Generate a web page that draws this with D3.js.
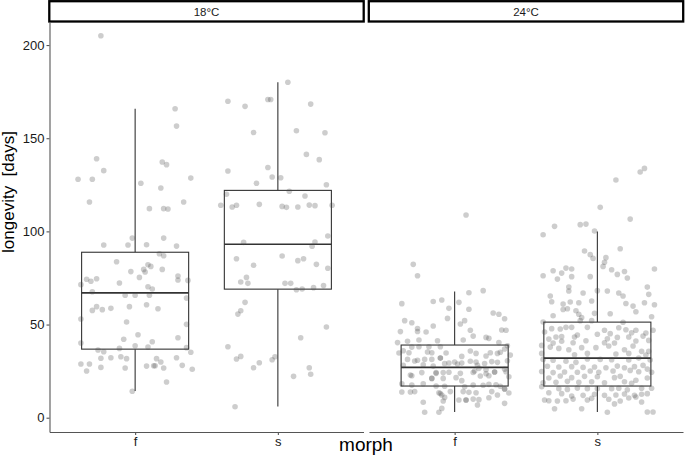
<!DOCTYPE html>
<html><head><meta charset="utf-8">
<script src="https://cdn.jsdelivr.net/npm/d3@7"></script>
<style>html,body{margin:0;padding:0;background:#fff}svg{display:block}</style>
</head><body><div id="chart"></div>
<script>
// ---------- data ----------
const facets = ["18°C", "24°C"];
const morphs = ["f", "s"];
const yTicks = [0, 50, 100, 150, 200];

// box statistics, order: 18°C f, 18°C s, 24°C f, 24°C s
const boxFacet = [0, 0, 1, 1];
const boxMorph = [0, 1, 0, 1];
const whiskLow = [14.3, 6, 3, 3];
const q1 = [36.8, 69, 17, 17];
const med = [67, 93.1, 27, 32];
const q3 = [88.8, 122, 39, 51.3];
const whiskHigh = [165.8, 180, 67.7, 100];

// longevity observations (days) and their horizontal jitter (in category units)
const long18f = [205,165.8,156.5,139,137.2,135.8,132.6,128,128,128.6,125.8,123.3,115.8,115.8,112.2,112.2,112,96.4,96.4,92.7,92.7,92.8,92.1,88,86.9,83.7,82.1,81.2,79.6,79.6,78.4,78.2,76,75.3,73.9,73.7,74.3,73.2,74.6,71.4,72.3,70.3,69.1,67.6,65.7,65.7,65.7,64.2,59.6,57.6,58,58.7,59.6,60.6,58.5,53,51.4,50.1,44.5,42.1,42.9,40.8,40.1,38.6,37.9,37.6,37.2,36.3,35.4,35.1,31.9,32.2,32.7,31.7,31.7,29.9,32.2,28.8,28.8,25.1,27,26.7,27.7,27.9,27.9,26.7,28.1,26,19.2,14.2];
const jit18f = [-0.24,0.28,0.29,-0.27,0.19,0.22,-0.22,-0.40,-0.30,0.39,0.04,0.18,-0.32,0.34,0.10,0.20,0.23,-0.02,0.20,-0.22,-0.05,0.08,0.29,0.17,0.20,-0.13,0.09,0.11,0.06,0.19,-0.03,0.07,0.30,0.03,0.30,0.37,-0.34,-0.31,-0.27,-0.38,-0.11,0.09,0.12,-0.30,-0.07,0.00,0.10,0.36,-0.27,-0.30,-0.23,-0.17,-0.04,0.08,0.16,-0.38,-0.06,0.36,0.02,-0.08,0.30,0.12,-0.38,0.00,0.09,0.36,-0.11,-0.26,-0.22,0.39,-0.24,-0.17,-0.10,-0.06,0.15,0.18,0.29,-0.38,-0.32,-0.34,-0.24,-0.07,0.08,0.13,0.14,0.20,0.33,0.40,0.22,-0.02];

const long18s = [180,169.8,167.1,170.8,170.8,168.3,153.1,154,152.9,141.3,138.5,132.4,134.3,129.2,128.8,125.8,125,119.9,121.5,119,114,113.1,114,114.5,113.4,112.9,113.1,114.1,113.8,114,97.5,94.3,92,94.1,85.3,86.8,84.3,85.3,81.8,82.3,80.2,75.3,72.8,72.1,72.1,72.1,68.7,69.1,69.8,70.9,61.9,57.4,55.6,48.7,42.9,38.1,31.5,32.9,26.8,29.5,31.1,32.7,22.2,26.8,23.3,5.9];
const jit18s = [0.07,-0.35,-0.23,-0.07,-0.05,0.23,-0.17,0.13,0.33,0.20,0.29,-0.35,-0.07,-0.04,0.02,-0.15,0.34,-0.36,0.08,0.19,-0.40,-0.32,-0.29,-0.13,0.03,0.06,0.14,0.22,0.26,0.38,0.35,0.26,0.24,-0.24,-0.29,0.03,0.14,0.18,-0.17,0.27,0.35,-0.22,-0.26,-0.21,0.05,0.09,0.13,0.17,0.25,0.32,-0.23,-0.26,-0.28,0.34,0.16,-0.35,-0.29,-0.26,-0.17,-0.13,-0.04,-0.02,0.11,0.22,0.23,-0.30];

const long24f = [108.8,82.3,76.2,67.1,68.2,61.2,62.4,63.2,61.9,58.7,58.2,56.2,55.5,53.1,53.3,52.1,52.1,51,50.3,49.2,47.9,46.3,46,46.9,47.1,46.9,46.2,43.8,43.1,42.6,41,41.7,40.3,41.7,40.3,41.3,37.9,38.1,38.1,38.1,38.6,35.9,34.7,35.3,34.9,34.7,35.8,34.9,34.5,35.1,36.9,33.6,32.9,33.1,32,31.3,30.8,31.3,31.3,29.9,30.3,29.9,30.1,29,29.4,28.8,28.4,28.1,28.1,27.7,26.5,25.8,26,24.2,24.2,24.2,23.8,24.3,23.6,24.5,24.7,22.5,21.1,21.1,21.5,19.9,22.5,22,18.2,18.2,17.5,17,16.9,16.6,17.5,17.4,17.9,17.7,16.9,15.4,13.8,13.8,14,13.4,14,14,13.6,13.4,14,13.3,12.2,10.9,9.5,10,9.7,10.7,12.2,8.3,9,6.8,7.7,5,2.9,2.9,34.9,34.5,30.4,29.3,29.1,29.7,30.6,24.5,21.1,15.4,9.5,32,22.9,23.8,24.4,25.1,22.4,13,9.5];
const jit24f = [0.08,-0.29,-0.26,0.10,0.20,-0.37,-0.15,-0.09,0.03,-0.04,0.10,0.27,0.31,0.35,-0.05,0.07,-0.35,-0.30,0.04,-0.15,-0.26,-0.26,-0.20,0.11,0.33,0.36,-0.38,0.13,0.22,0.24,-0.33,-0.25,-0.40,0.06,0.31,-0.12,-0.30,-0.25,-0.18,-0.10,0.37,-0.36,-0.39,-0.19,-0.16,-0.06,0.11,0.25,0.30,0.32,0.35,0.39,0.05,0.22,-0.10,-0.33,-0.26,-0.21,-0.16,0.00,0.11,0.15,0.26,-0.07,-0.04,0.02,-0.22,0.16,-0.36,-0.15,0.17,0.22,0.35,-0.23,-0.13,-0.08,0.04,0.13,0.22,0.28,0.36,-0.30,-0.16,-0.08,0.01,0.05,0.24,0.38,-0.22,-0.37,-0.30,-0.13,-0.07,0.07,0.13,0.20,0.24,0.29,0.32,0.35,-0.37,-0.31,-0.28,-0.11,-0.03,0.06,0.10,0.15,0.26,0.38,-0.09,-0.07,0.08,0.13,0.17,0.24,0.30,-0.22,-0.08,0.16,0.35,-0.09,-0.21,-0.11,-0.32,0.15,-0.28,0.05,0.21,0.30,0.37,0.28,-0.16,0.35,0.08,-0.10,-0.31,-0.13,-0.04,0.14,0.18,-0.10,0.03];

const long24s = [133.8,131.9,127.6,112.9,106.6,103.6,103.9,102.7,98.2,100.2,90.7,89.5,87.5,85.5,85.9,83.4,81.2,80.3,79.8,78.9,77.6,79.4,78.5,79.8,76.9,76.2,75.7,75.7,75,74.4,70.1,68.2,68,66.9,70.1,68,66.9,65.3,65.3,66.2,62.2,61,62.1,61.7,62.6,61.3,59.9,61.7,60.6,58.1,58.5,57.4,55.5,53.7,56,55.8,56.9,54.7,54.2,52.1,52.1,51.4,47.8,47.6,48.5,48.5,48.5,46.9,51.2,48.3,47.2,45.6,46.9,45.5,46.9,46,42.2,43.3,43.5,43.3,44.4,44.8,45.1,42.4,40.1,43.1,43.3,43.8,41.5,40.1,41,40.2,41.3,40.2,41.2,38.8,37.9,37.2,36.5,37.6,37.6,38.5,36.5,38.5,35.6,35.6,34.5,33.8,34.5,34.2,34.5,33.6,31.3,30.8,30.3,29.7,31.5,31.3,31.1,31,32,31,27.6,27.2,27.4,27,27.2,26.8,27.7,26.8,27.4,28.1,26.1,24.8,24.2,24.5,24.4,25.1,24.4,25.1,25.4,24.7,24.4,21.3,22.4,21.5,22.2,22,21.5,22.2,20.1,21.3,18.8,19,19.5,19,19.3,18.8,19.3,18.5,16.6,15.6,15.2,15.9,15.6,15.6,15.6,15.8,15,15.8,15.8,13.4,12.9,11.6,12,12.6,12,12.2,12.7,12,12.6,12.9,9.5,9.1,9,9.1,10,9.5,10.4,9.9,9,10.6,11.1,4.8,4.8,2.9,3.1,3.1,8.4,7.4];
const jit24s = [0.33,0.30,0.13,0.02,0.23,-0.12,-0.08,-0.30,-0.38,-0.02,0.16,-0.09,-0.05,-0.03,0.06,0.05,0.04,-0.22,-0.18,-0.31,-0.25,0.10,0.19,0.40,0.14,-0.38,-0.18,-0.05,0.21,-0.28,-0.20,0.00,0.07,0.15,0.35,-0.20,-0.10,-0.33,0.18,0.36,-0.32,-0.24,-0.19,-0.13,-0.04,0.20,0.25,0.33,0.40,-0.24,-0.21,-0.15,-0.13,-0.11,-0.02,0.09,0.27,-0.31,0.38,-0.12,-0.04,-0.38,-0.32,-0.26,-0.22,-0.18,-0.07,0.05,0.18,0.15,0.20,0.24,0.27,0.34,0.39,-0.37,-0.34,-0.29,-0.25,-0.16,-0.14,0.00,0.09,0.07,0.12,0.14,0.22,0.32,0.36,-0.31,-0.25,-0.17,-0.08,0.05,0.27,-0.39,-0.33,-0.27,-0.20,-0.11,-0.01,0.08,0.19,0.25,0.31,0.36,-0.39,-0.16,-0.07,0.13,0.22,0.34,-0.38,-0.31,-0.22,-0.15,-0.07,0.02,0.10,0.22,0.29,0.37,-0.35,-0.27,-0.18,-0.10,-0.02,0.06,0.14,0.19,0.26,0.32,0.35,-0.39,-0.31,-0.23,-0.14,-0.05,0.01,0.11,0.23,0.29,0.38,-0.34,-0.26,-0.18,-0.09,0.00,0.12,0.16,0.27,0.35,-0.38,-0.29,-0.21,-0.13,-0.04,0.05,0.19,0.24,-0.39,-0.27,-0.21,-0.14,-0.07,0.00,0.10,0.15,0.21,0.31,0.38,-0.34,-0.25,-0.18,-0.10,-0.02,0.05,0.13,0.19,0.26,0.31,0.35,-0.37,-0.34,-0.28,-0.22,-0.17,-0.07,-0.04,0.08,0.16,0.22,0.27,-0.30,-0.11,0.07,0.35,0.39,0.31,0.12];

const groupVals = [long18f, long18s, long24f, long24s];
const groupJit = [jit18f, jit18s, jit24f, jit24s];

// ---------- layout ----------
const W = 685, H = 457;
const plotTop = 22.5, plotBottom = 432;
const panelX = [[49.5, 363.5], [369, 683]];
const font = "'Liberation Sans', Arial, Helvetica, sans-serif";

const svg = d3.select("#chart").append("svg")
  .attr("width", W).attr("height", H)
  .style("font-family", font);

const y = d3.scaleLinear().domain([-7.67, 212.1]).range([plotBottom, plotTop]);
const xScales = panelX.map(r => d3.scaleLinear().domain([0.4, 2.6]).range(r));

// strips
facets.forEach((f, i) => {
  const [a, b] = panelX[i];
  svg.append("rect").attr("x", a - 0.2).attr("y", 1.2).attr("width", b - a + 0.4).attr("height", 20.3)
    .attr("fill", "#fff").attr("stroke", "#000").attr("stroke-width", 2.3);
  svg.append("text").attr("x", (a + b) / 2).attr("y", 15.8).attr("text-anchor", "middle")
    .attr("font-size", 11.5).attr("fill", "#1a1a1a").text(f);
});

// boxes
const boxW = 0.75;
const lineCol = "#333";
for (let k = 0; k < 4; k++) {
  const xs = xScales[boxFacet[k]];
  const cx = boxMorph[k] + 1;
  const g = svg.append("g");
  g.append("line").attr("x1", xs(cx)).attr("x2", xs(cx)).attr("y1", y(q3[k])).attr("y2", y(whiskHigh[k]))
    .attr("stroke", lineCol).attr("stroke-width", 1.1);
  g.append("line").attr("x1", xs(cx)).attr("x2", xs(cx)).attr("y1", y(q1[k])).attr("y2", y(whiskLow[k]))
    .attr("stroke", lineCol).attr("stroke-width", 1.1);
  g.append("rect").attr("x", xs(cx - boxW / 2)).attr("y", y(q3[k]))
    .attr("width", xs(cx + boxW / 2) - xs(cx - boxW / 2)).attr("height", y(q1[k]) - y(q3[k]))
    .attr("fill", "#fff").attr("stroke", lineCol).attr("stroke-width", 1.1);
  g.append("line").attr("x1", xs(cx - boxW / 2)).attr("x2", xs(cx + boxW / 2)).attr("y1", y(med[k])).attr("y2", y(med[k]))
    .attr("stroke", lineCol).attr("stroke-width", 1.7);
}

// jittered points
for (let k = 0; k < 4; k++) {
  const xs = xScales[boxFacet[k]];
  const cx = boxMorph[k] + 1;
  const pts = groupVals[k].map((v, i) => ({ v, j: groupJit[k][i] }));
  svg.append("g").selectAll("circle").data(pts).join("circle")
    .attr("cx", d => xs(cx + d.j)).attr("cy", d => y(d.v)).attr("r", 2.8)
    .attr("fill", "#4d4d4d").attr("fill-opacity", 0.28);
}

// y axis (left panel only)
const yAxis = svg.append("g").attr("transform", `translate(${panelX[0][0]},0)`)
  .call(d3.axisLeft(y).tickValues(yTicks).tickSize(3).tickPadding(2).tickSizeOuter(0));
yAxis.select(".domain").attr("stroke", "#555").attr("stroke-width", 1.1);
yAxis.selectAll(".tick line").attr("stroke", "#555").attr("stroke-width", 1.1);
yAxis.selectAll(".tick text").attr("font-size", 13).attr("fill", "#1a1a1a").attr("font-family", font);

// x axes
xScales.forEach((xs, i) => {
  const ax = svg.append("g").attr("transform", `translate(0,${plotBottom})`)
    .call(d3.axisBottom(xs).tickValues([1, 2]).tickFormat(d => morphs[d - 1]).tickSize(3).tickPadding(2).tickSizeOuter(0));
  ax.select(".domain").attr("stroke", "#555").attr("stroke-width", 1.1);
  ax.selectAll(".tick line").attr("stroke", "#555").attr("stroke-width", 1.1);
  ax.selectAll(".tick text").attr("font-size", 13).attr("fill", "#1a1a1a").attr("font-family", font);
});

// titles
svg.append("text").attr("x", 366).attr("y", 451).attr("text-anchor", "middle")
  .attr("font-size", 19).attr("fill", "#000").text("morph");
svg.append("text").attr("transform", "translate(13.5,192) rotate(-90)").attr("text-anchor", "middle")
  .attr("font-size", 17).attr("fill", "#000").style("white-space", "pre").text("longevity  [days]");
</script>
</body></html>
